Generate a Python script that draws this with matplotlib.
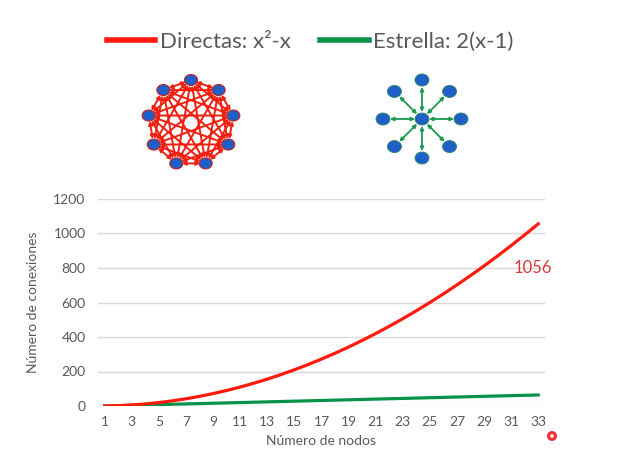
import numpy as np
import matplotlib
matplotlib.use('Agg')
import matplotlib.pyplot as plt
from matplotlib.lines import Line2D
from matplotlib.patches import Ellipse, FancyArrowPatch, Circle

plt.rcParams['font.family'] = ['Lato', 'DejaVu Sans']

# data
nodos = list(range(1, 34))
directas = [0, 2, 6, 12, 20, 30, 42, 56, 72, 90, 110, 132, 156, 182, 210, 240,
            272, 306, 342, 380, 420, 462, 506, 552, 600, 650, 702, 756, 812,
            870, 930, 992, 1056]
estrella = [0, 2, 4, 6, 8, 10, 12, 14, 16, 18, 20, 22, 24, 26, 28, 30, 32,
            34, 36, 38, 40, 42, 44, 46, 48, 50, 52, 54, 56, 58, 60, 62, 64]
y_ticks = [0, 200, 400, 600, 800, 1000, 1200]
x_ticks = list(range(1, 34, 2))

RED = '#ff1a0d'
GREEN = '#07924a'
GRAY = '#595959'

W, H = 638, 474
fig = plt.figure(figsize=(W / 100, H / 100), dpi=100)

# main chart
ax = fig.add_axes([98 / W, 1 - 406 / H, (545 - 98) / W, (406 - 199) / H])
ax.plot(nodos, estrella, color=GREEN, lw=2.3, zorder=3)
ax.plot(nodos, directas, color=RED, lw=2.3, zorder=4)
ax.set_xlim(0.5, 33.5)
ax.set_ylim(0, 1200)
ax.set_yticks(y_ticks)
ax.set_xticks(x_ticks)
ax.grid(axis='y', color='#d9d9d9', lw=1)
ax.set_axisbelow(True)
for s in ax.spines.values():
    s.set_visible(False)
ax.tick_params(length=0, labelsize=10, colors=GRAY, pad=7)
ax.tick_params(axis='y', pad=9)
ax.set_xlabel('Número de nodos', fontsize=10, color=GRAY, labelpad=5)
ax.set_ylabel('Número de conexiones', fontsize=10, color=GRAY, labelpad=10)
ax.annotate(str(directas[-1]), (nodos[-1], directas[-1]),
            xytext=(-25, -44), textcoords='offset pixels',
            ha='left', va='center', fontsize=12, color='#d63a3a')

# legend
handles = [Line2D([], [], color=RED, lw=4),
           Line2D([], [], color=GREEN, lw=4)]
fig.legend(handles, ['Directas: x²-x', 'Estrella: 2(x-1)'],
           loc='center', bbox_to_anchor=(310 / W, 1 - 42 / H), ncol=2,
           frameon=False, fontsize=16, handlelength=2.2, handletextpad=0.2,
           columnspacing=1.3, labelcolor=GRAY)

# network icons, drawn in pixel coordinates
deco = fig.add_axes([0, 0, 1, 1], zorder=-1)
deco.set_xlim(0, W)
deco.set_ylim(H, 0)
deco.axis('off')

# full mesh
cx, cy, r = 191, 123, 43
ang = np.deg2rad(-90 + np.arange(9) * 40)
pts = [(cx + r * np.cos(a), cy + r * np.sin(a)) for a in ang]
for i in range(len(pts)):
    for j in range(i + 1, len(pts)):
        deco.add_patch(FancyArrowPatch(pts[i], pts[j], arrowstyle='<|-|>',
                                       mutation_scale=5, color='#f02010',
                                       lw=1.4, shrinkA=4, shrinkB=4))
for p in pts:
    deco.add_patch(Ellipse(p, 13, 11, fc='#1f5fc8', ec='#c02020', lw=0.8,
                           zorder=5))

# star
sx, sy, sr = 422, 119, 39
ang = np.deg2rad(-90 + np.arange(8) * 45)
spts = [(sx + sr * np.cos(a), sy + sr * np.sin(a)) for a in ang]
for p in spts:
    deco.add_patch(FancyArrowPatch((sx, sy), p, arrowstyle='<|-|>',
                                   mutation_scale=5, color='#1a9a50',
                                   lw=1.3, shrinkA=5, shrinkB=5))
for p in spts + [(sx, sy)]:
    deco.add_patch(Ellipse(p, 14, 12, fc='#1f5fc8', ec='#2a8a60', lw=0.6,
                           zorder=5))

# cursor marker
deco.add_patch(Circle((552, 436), 5, fc='#f03030', ec='none'))
deco.add_patch(Circle((552, 436), 1.8, fc='white', ec='none'))

fig.savefig('out.png', dpi=100)
